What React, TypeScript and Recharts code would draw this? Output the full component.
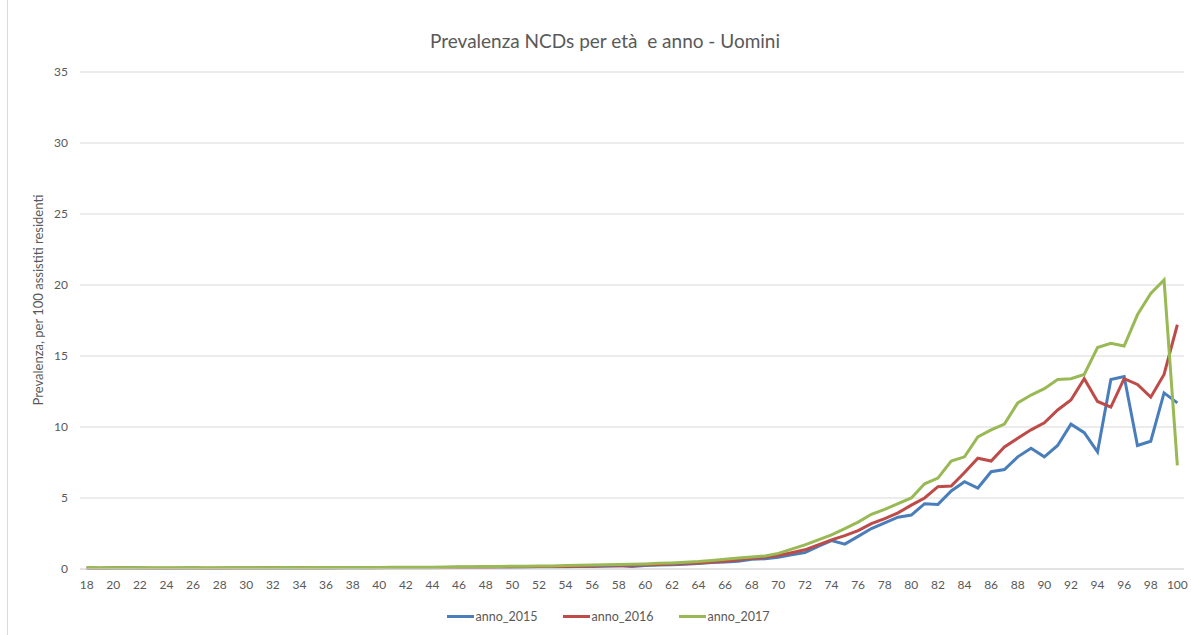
import { LineChart, Line, XAxis, YAxis, CartesianGrid } from 'recharts';

const ages = Array.from({ length: 83 }, (_, i) => 18 + i);

const anno2015 = [
  0.05, 0.04, 0.05, 0.06, 0.05, 0.04, 0.04, 0.05, 0.05, 0.04, 0.05, 0.05,
  0.05, 0.06, 0.06, 0.05, 0.06, 0.06, 0.06, 0.07, 0.07, 0.07,
  0.08, 0.08, 0.09, 0.08, 0.09, 0.1, 0.1, 0.11, 0.12, 0.12,
  0.13, 0.14, 0.15, 0.15, 0.16, 0.17, 0.18, 0.2, 0.22, 0.18,
  0.25, 0.28, 0.3, 0.33, 0.38, 0.45, 0.5, 0.55, 0.68, 0.72,
  0.83, 1.0, 1.15, 1.6, 2.0, 1.75, 2.3, 2.85, 3.25, 3.65,
  3.8, 4.6, 4.55, 5.5, 6.15, 5.7, 6.85, 7.0, 7.9, 8.5,
  7.9, 8.7, 10.2, 9.6, 8.25, 13.35, 13.55, 8.7, 9.0, 12.4, 11.7,
];

const anno2016 = [
  0.07, 0.06, 0.08, 0.09, 0.07, 0.06, 0.06, 0.06, 0.07, 0.06, 0.06, 0.07,
  0.07, 0.08, 0.09, 0.08, 0.08, 0.07, 0.08, 0.09, 0.1, 0.09,
  0.09, 0.1, 0.11, 0.1, 0.1, 0.11, 0.12, 0.13, 0.13, 0.14,
  0.15, 0.16, 0.17, 0.17, 0.18, 0.2, 0.22, 0.24, 0.26, 0.25,
  0.3, 0.32, 0.35, 0.38, 0.42, 0.5, 0.55, 0.65, 0.75, 0.82,
  0.95, 1.15, 1.35, 1.7, 2.05, 2.35, 2.7, 3.2, 3.55, 3.95,
  4.5, 5.0, 5.8, 5.85, 6.8, 7.8, 7.6, 8.6, 9.2, 9.8,
  10.3, 11.2, 11.9, 13.4, 11.8, 11.4, 13.4, 13.0, 12.1, 13.7, 17.2,
];

const anno2017 = [
  0.1, 0.09, 0.08, 0.09, 0.09, 0.08, 0.08, 0.08, 0.08, 0.08, 0.08, 0.08,
  0.08, 0.09, 0.09, 0.1, 0.09, 0.09, 0.1, 0.1, 0.11, 0.1,
  0.11, 0.12, 0.13, 0.12, 0.13, 0.14, 0.15, 0.16, 0.17, 0.18,
  0.19, 0.2, 0.22, 0.22, 0.24, 0.26, 0.28, 0.3, 0.32, 0.34,
  0.36, 0.4, 0.43, 0.47, 0.52, 0.6, 0.68, 0.78, 0.85, 0.92,
  1.1, 1.4, 1.7, 2.05, 2.4, 2.85, 3.3, 3.85, 4.2, 4.6,
  5.0, 6.0, 6.4, 7.6, 7.9, 9.3, 9.8, 10.2, 11.7, 12.25,
  12.7, 13.35, 13.4, 13.7, 15.6, 15.9, 15.7, 17.9, 19.4, 20.35, 7.3,
];

const xTicks = ages.filter(a => a % 2 === 0);
const yTicks = [0, 5, 10, 15, 20, 25, 30, 35];

const series = [
  { key: 'anno_2015', color: '#4A7EBB' },
  { key: 'anno_2016', color: '#BE4B48' },
  { key: 'anno_2017', color: '#98B954' },
];

const data = ages.map((age, i) => ({
  age,
  anno_2015: anno2015[i],
  anno_2016: anno2016[i],
  anno_2017: anno2017[i],
}));

const font = 'Lato, "Open Sans", sans-serif';
const textColor = '#595959';

export default function App() {
  return (
    <div style={{ position: 'absolute', left: 0, top: 0, width: 1192, height: 635, background: '#fff', fontFamily: font }}>
      <div style={{ position: 'absolute', left: 7, top: 0, width: 1, height: 635, background: '#d9d9d9' }} />
      <div
        style={{
          position: 'absolute', left: 0, top: 29, width: 1210, textAlign: 'center',
          fontSize: 19, color: textColor, whiteSpace: 'pre',
        }}
      >
        {'Prevalenza NCDs per età  e anno - Uomini'}
      </div>
      <div
        style={{
          position: 'absolute', left: 38, top: 300, transform: 'translate(-50%, -50%) rotate(-90deg)',
          fontSize: 13, color: textColor, whiteSpace: 'nowrap',
        }}
      >
        Prevalenza, per 100 assistiti residenti
      </div>
      <LineChart
        width={1192}
        height={635}
        data={data}
        margin={{ top: 72, right: 8, bottom: 36, left: 30 }}
        style={{ position: 'absolute', left: 0, top: 0 }}
      >
        <CartesianGrid vertical={false} stroke="#d9d9d9" strokeWidth={1} />
        <XAxis
          dataKey="age"
          type="number"
          domain={[17.5, 100.5]}
          ticks={xTicks}
          interval={0}
          height={30}
          axisLine={{ stroke: '#d9d9d9' }}
          tickLine={false}
          tickSize={0}
          tickMargin={11}
          tick={{ fontSize: 12, fill: textColor, fontFamily: font }}
        />
        <YAxis
          domain={[0, 35]}
          ticks={yTicks}
          width={50}
          axisLine={false}
          tickLine={false}
          tickSize={0}
          tickMargin={12}
          tick={{ fontSize: 12, fill: textColor, fontFamily: font }}
        />
        {series.map(s => (
          <Line
            key={s.key}
            type="linear"
            dataKey={s.key}
            stroke={s.color}
            strokeWidth={3}
            dot={false}
            isAnimationActive={false}
          />
        ))}
      </LineChart>
      <div
        style={{
          position: 'absolute', left: 0, top: 609, width: 1216, display: 'flex',
          justifyContent: 'center', gap: 25, fontSize: 12.5, color: textColor,
        }}
      >
        {series.map(s => (
          <div key={s.key} style={{ display: 'flex', alignItems: 'center', gap: 2 }}>
            <div style={{ width: 27, height: 3, background: s.color }} />
            <span>{s.key}</span>
          </div>
        ))}
      </div>
    </div>
  );
}
